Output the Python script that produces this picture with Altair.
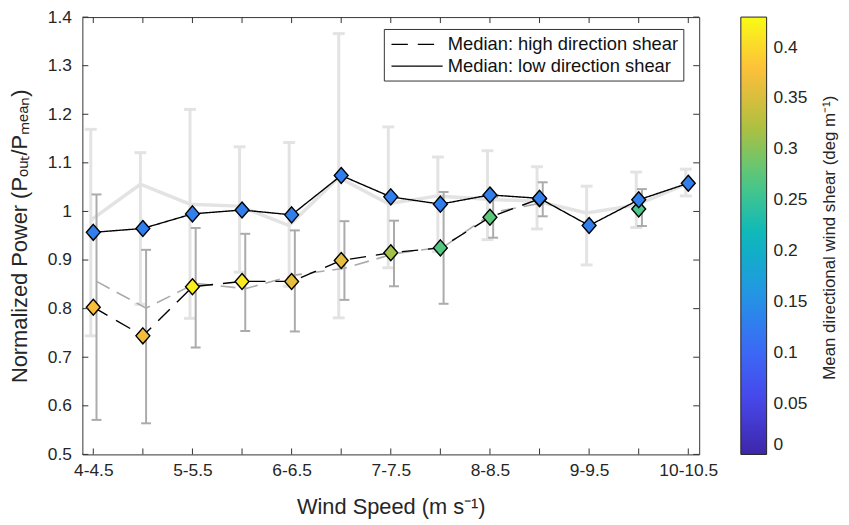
import altair as alt
import pandas as pd

# ---------------- data ----------------
bins = ["4-4.5", "4.5-5", "5-5.5", "5.5-6", "6-6.5", "6.5-7", "7-7.5",
        "7.5-8", "8-8.5", "8.5-9", "9-9.5", "9.5-10", "10-10.5"]

# low direction shear
low_median = [0.957, 0.965, 0.995, 1.003, 0.993, 1.074, 1.030, 1.015, 1.034, 1.027, 0.971, 1.024, 1.058]
low_shear = [0.13, 0.13, 0.13, 0.13, 0.13, 0.13, 0.13, 0.13, 0.13, 0.13, 0.13, 0.13, 0.13]
low_mean = [0.982, 1.056, 1.015, 1.011, 0.971, 1.070, 1.016, 1.032, 1.025, 1.021, 0.997, 1.013, 1.056]
low_lo = [0.744, 0.809, 0.780, 0.875, 0.846, 0.781, 0.884, 0.917, 0.942, 0.964, 0.890, 0.967, 1.032]
low_hi = [1.169, 1.121, 1.210, 1.133, 1.142, 1.366, 1.174, 1.112, 1.125, 1.092, 1.052, 1.081, 1.087]

# high direction shear (None = no data in that bin)
high_median = [0.803, 0.744, 0.845, 0.856, 0.856, 0.899, 0.915, 0.925, 0.988, 1.026, None, 1.005, None]
high_shear = [0.375, 0.37, 0.42, 0.415, 0.36, 0.36, 0.315, 0.27, 0.275, 0.2, None, 0.265, None]
high_mean = [0.856, 0.801, 0.852, 0.841, 0.869, 0.883, 0.913, 0.927, 0.998, 1.018, None, 1.005, None]
high_lo = [0.571, 0.564, 0.720, 0.754, 0.753, 0.818, 0.846, 0.810, 0.946, 0.990, None, 0.970, None]
high_hi = [1.035, 0.921, 0.966, 0.954, 0.961, 0.980, 0.981, 1.040, 1.030, 1.060, None, 1.046, None]

y_ticks = [0.5, 0.6, 0.7, 0.8, 0.9, 1.0, 1.1, 1.2, 1.3, 1.4]
cbar_ticks = [0, 0.05, 0.1, 0.15, 0.2, 0.25, 0.3, 0.35, 0.4]
cbar_title = "Mean directional wind shear (deg m\u207b\u00b9)"

# parula-like colour map over 0 .. 0.43
cmap_stops = [0, 0.05375, 0.1075, 0.16125, 0.215, 0.26875, 0.3225, 0.37625, 0.43]
cmap_colors = ["#3e26a8", "#4747eb", "#3a6df5", "#2298e2", "#0bb8bd",
               "#4fc882", "#b0c03f", "#fcbd3c", "#f9fb15"]

SER_HIGH = "Median: high direction shear"
SER_LOW = "Median: low direction shear"

W, H = 622, 441
FONT = "Liberation Sans"
TXT = "#262626"


def frame(median, shear, mean, lo, hi, series):
    rows, seg, gap = [], 0, True
    for i, b in enumerate(bins):
        if median[i] is None:
            gap = True
            continue
        if gap:
            seg += 1
        gap = False
        rows.append(dict(idx=i + 1, bin=b, median=median[i], shear=shear[i],
                         mean=mean[i], lo=lo[i], hi=hi[i], seg=seg, series=series))
    return pd.DataFrame(rows)


df_low = frame(low_median, low_shear, low_mean, low_lo, low_hi, SER_LOW)
df_high = frame(high_median, high_shear, high_mean, high_lo, high_hi, SER_HIGH)
df_x = pd.DataFrame({"idx": list(range(1, len(bins) + 1))})
df_y = pd.DataFrame({"v": y_ticks})
df_title = pd.DataFrame({"t": [cbar_title]})

# ---------------- scales / axes ----------------
label_list = "[" + ",".join("'" + b + "'" for b in bins) + "]"
xscale = alt.Scale(domain=[0.78, 13.22], nice=False, zero=False)
yscale = alt.Scale(domain=[0.5, 1.4], nice=False, zero=False)
xaxis = alt.Axis(values=list(range(1, 14)),
                 labelExpr="datum.value % 2 == 1 ? " + label_list + "[datum.value - 1] : ''",
                 labelOverlap=False, labelPadding=7, title="Wind Speed (m s\u207b\u00b9)",
                 titlePadding=18)
yaxis = alt.Axis(values=y_ticks, format=".1~f", labelPadding=11,
                 title="Normalized Power (P\u2092\u1d64\u209c/P\u2098\u2091\u2090\u2099)",
                 titlePadding=16)


def X(f):
    return alt.X(f, type="quantitative", scale=xscale, axis=xaxis)


def Y(f):
    return alt.Y(f, type="quantitative", scale=yscale, axis=yaxis)


fill_scale = alt.Scale(domain=cmap_stops, range=cmap_colors, interpolate="rgb")
fill_legend = alt.Legend(title=None,
                         orient="right", offset=42, padding=0,
                         gradientLength=H, gradientThickness=26,
                         gradientStrokeColor="#222222", gradientStrokeWidth=1,
                         values=cbar_ticks, format=".2~f", labelFontSize=17.5,
                         labelOffset=7, labelOverlap=False, direction="vertical")

dash_scale = alt.Scale(domain=[SER_HIGH, SER_LOW], range=[[16.5, 10], [1, 0]])
dash_legend = alt.Legend(title=None, orient="none", legendX=304, legendY=12,
                         symbolType="M-2.5,0H2.5", symbolSize=426, symbolStrokeWidth=1.3,
                         symbolStrokeColor="black", symbolOffset=18,
                         labelFontSize=18.5, labelOffset=20, labelLimit=0,
                         padding=4.5, rowPadding=1, strokeColor="#333333",
                         fillColor="white", labelColor="#111111")

diamond = "M0,-1.15L1,0L0,1.15L-1,0Z"

LIGHT = "#e3e3e3"
DARK = "#ababab"

base_low = alt.Chart(df_low)
base_high = alt.Chart(df_high)

# light gray: low shear mean + spread
lo_line = base_low.transform_calculate(xo="datum.idx - 0.05").mark_line(
    color=LIGHT, strokeWidth=3.5).encode(x=X("xo"), y=Y("mean"))
lo_bar = base_low.transform_calculate(xo="datum.idx - 0.05").mark_rule(
    color=LIGHT, strokeWidth=3).encode(x=X("xo"), y=Y("lo"), y2="hi")
lo_cap1 = base_low.transform_calculate(xo="datum.idx - 0.05").mark_tick(
    color=LIGHT, orient="horizontal", size=12, thickness=3, opacity=1).encode(x=X("xo"), y=Y("lo"))
lo_cap2 = base_low.transform_calculate(xo="datum.idx - 0.05").mark_tick(
    color=LIGHT, orient="horizontal", size=12, thickness=3, opacity=1).encode(x=X("xo"), y=Y("hi"))

# darker gray: high shear mean + spread
hi_line = base_high.transform_calculate(xo="datum.idx + 0.065").mark_line(
    color=DARK, strokeWidth=1.6, strokeDash=[15, 8]).encode(x=X("xo"), y=Y("mean"), detail="seg:N")
hi_bar = base_high.transform_calculate(xo="datum.idx + 0.065").mark_rule(
    color=DARK, strokeWidth=2).encode(x=X("xo"), y=Y("lo"), y2="hi")
hi_cap1 = base_high.transform_calculate(xo="datum.idx + 0.065").mark_tick(
    color=DARK, orient="horizontal", size=10, thickness=2, opacity=1).encode(x=X("xo"), y=Y("lo"))
hi_cap2 = base_high.transform_calculate(xo="datum.idx + 0.065").mark_tick(
    color=DARK, orient="horizontal", size=10, thickness=2, opacity=1).encode(x=X("xo"), y=Y("hi"))

# medians
hi_med = base_high.mark_line(color="black", strokeWidth=1.4).encode(
    x=X("idx"), y=Y("median"), detail="seg:N",
    strokeDash=alt.StrokeDash("series:N", scale=dash_scale, legend=dash_legend))
hi_pts = base_high.mark_point(shape=diamond, size=196, filled=True, opacity=1,
                              stroke="black", strokeWidth=1.4).encode(
    x=X("idx"), y=Y("median"),
    fill=alt.Fill("shear:Q", scale=fill_scale, legend=fill_legend))
lo_med = base_low.mark_line(color="black", strokeWidth=1.4).encode(
    x=X("idx"), y=Y("median"),
    strokeDash=alt.StrokeDash("series:N", scale=dash_scale, legend=dash_legend))
lo_pts = base_low.mark_point(shape=diamond, size=196, filled=True, opacity=1,
                             stroke="black", strokeWidth=1.4).encode(
    x=X("idx"), y=Y("median"),
    fill=alt.Fill("shear:Q", scale=fill_scale, legend=fill_legend))

# inward ticks on all four sides of the box
TK = "#333333"
t_left = alt.Chart(df_y).mark_rule(color=TK).encode(y=Y("v"), x=alt.value(0), x2=alt.value(6))
t_right = alt.Chart(df_y).mark_rule(color=TK).encode(y=Y("v"), x=alt.value(W - 6), x2=alt.value(W))
t_bottom = alt.Chart(df_x).mark_rule(color=TK).encode(x=X("idx"), y=alt.value(H - 6), y2=alt.value(H))
t_top = alt.Chart(df_x).mark_rule(color=TK).encode(x=X("idx"), y=alt.value(0), y2=alt.value(6))

# colour-bar title (rotated, reads bottom to top)
cb_title = alt.Chart(df_title).mark_text(
    angle=270, fontSize=17, font=FONT, color=TXT,
    align="center", baseline="middle").encode(
    text="t:N", x=alt.value(W + 132), y=alt.value(H / 2 + 2))

chart = alt.layer(
    lo_line, lo_bar, lo_cap1, lo_cap2,
    hi_line, hi_bar, hi_cap1, hi_cap2,
    hi_med, hi_pts, lo_med, lo_pts,
    t_left, t_right, t_bottom, t_top, cb_title,
).properties(
    width=W, height=H,
    autosize=alt.AutoSizeParams(type="none"),
    padding={"left": 75, "top": 7, "right": 143, "bottom": 66},
).configure(
    font=FONT,
).configure_axis(
    labelFont=FONT, labelFontSize=17.5, labelColor=TXT,
    titleFont=FONT, titleFontSize=22, titleFontWeight="normal",
    titleColor=TXT, grid=False, ticks=False, domain=False,
).configure_legend(
    labelFont=FONT, titleFont=FONT, labelColor=TXT, titleColor=TXT,
).configure_view(
    stroke="#333333", strokeWidth=1,
)

chart.save("out.html", embed_options={"renderer": "svg", "actions": False})
